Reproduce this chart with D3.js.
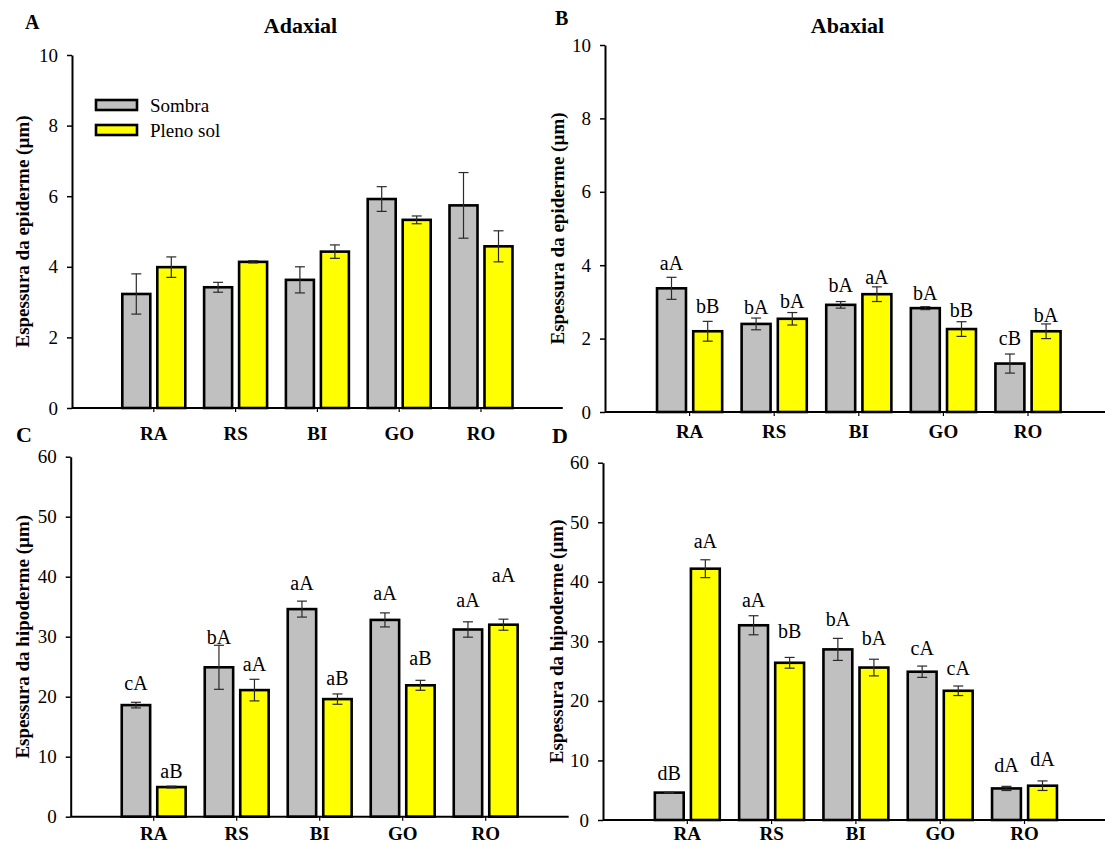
<!DOCTYPE html>
<html>
<head>
<meta charset="utf-8">
<script src="https://cdn.jsdelivr.net/npm/d3@7"></script>
<style>
  html, body { margin: 0; padding: 0; background: #fff; }
  svg { display: block; }
  text { font-family: "Liberation Serif", "Times New Roman", serif; fill: #000; }
</style>
</head>
<body>
<svg id="chart" width="1105" height="847"></svg>
<script>
// ---------- data ----------
const categories = ["RA", "RS", "BI", "GO", "RO"];
const seriesNames = ["Sombra", "Pleno sol"];

// Panel A: Adaxial epiderme (µm)
const epiAdaxSombra    = [3.23, 3.42, 3.63, 5.92, 5.74];
const epiAdaxSombraErr = [0.57, 0.14, 0.37, 0.35, 0.93];
const epiAdaxSol       = [3.99, 4.14, 4.43, 5.33, 4.58];
const epiAdaxSolErr    = [0.29, 0.03, 0.19, 0.11, 0.44];

// Panel B: Abaxial epiderme (µm)
const epiAbaxSombra    = [3.37, 2.40, 2.92, 2.83, 1.32];
const epiAbaxSombraErr = [0.30, 0.16, 0.09, 0.04, 0.26];
const epiAbaxSol       = [2.20, 2.54, 3.21, 2.26, 2.20];
const epiAbaxSolErr    = [0.27, 0.17, 0.20, 0.20, 0.20];
const epiAbaxSombraLetters = ["aA", "bA", "bA", "bA", "cB"];
const epiAbaxSolLetters    = ["bB", "bA", "aA", "bB", "bA"];
const epiAbaxSombraLetterAt = [3.86, 2.67, 3.26, 3.06, 1.83];
const epiAbaxSolLetterAt    = [2.70, 2.83, 3.49, 2.60, 2.45];

// Panel C: Adaxial hipoderme (µm)
const hipAdaxSombra    = [18.6, 24.9, 34.6, 32.8, 31.2];
const hipAdaxSombraErr = [0.47, 3.67, 1.33, 1.17, 1.28];
const hipAdaxSol       = [4.94, 21.1, 19.6, 21.9, 32.0];
const hipAdaxSolErr    = [0.15, 1.80, 0.86, 0.83, 0.92];
const hipAdaxSombraLetters = ["cA", "bA", "aA", "aA", "aA"];
const hipAdaxSolLetters    = ["aB", "aA", "aB", "aB", "aA"];
const hipAdaxSombraLetterAt = [21.2, 28.8, 37.8, 36.1, 34.9];
const hipAdaxSolLetterAt    = [6.4, 24.3, 21.9, 25.3, 39.1];

// Panel D: Abaxial hipoderme (µm)
const hipAbaxSombra    = [4.6, 32.7, 28.65, 24.9, 5.3];
const hipAbaxSombraErr = [0.05, 1.6, 1.85, 0.95, 0.35];
const hipAbaxSol       = [42.2, 26.4, 25.6, 21.7, 5.76];
const hipAbaxSolErr    = [1.5, 0.9, 1.4, 0.8, 0.8];
const hipAbaxSombraLetters = ["dB", "aA", "bA", "cA", "dA"];
const hipAbaxSolLetters    = ["aA", "bB", "bA", "cA", "dA"];
const hipAbaxSombraLetterAt = [6.7, 35.8, 32.5, 27.7, 8.1];
const hipAbaxSolLetterAt    = [45.6, 30.5, 29.4, 24.3, 9.0];

const epiTicks = [0, 2, 4, 6, 8, 10];
const hipTicks = [0, 10, 20, 30, 40, 50, 60];

const colors = ["#c0c0c0", "#ffff00"];

// ---------- drawing ----------
const svg = d3.select("#chart");
const FONT = '"Liberation Serif", "Times New Roman", serif';

function drawPanel(cfg) {
  const g = svg.append("g");
  const s = cfg.step;
  const xLine = d3.scaleLinear().domain([0, 6]).range([cfg.x0, cfg.x0 + 6 * s]);
  const x = d3.scaleBand().domain(categories)
    .range([cfg.x0 + 0.5 * s, cfg.x0 + 5.5 * s]).paddingInner(0).paddingOuter(0);
  const xs = d3.scaleBand().domain([0, 1]).range([-0.385 * s, 0.385 * s]).paddingInner(0.2);
  const y = d3.scaleLinear().domain([0, cfg.ticks[cfg.ticks.length - 1]]).range([cfg.y0, cfg.yTop]);

  const series = [
    { vals: cfg.sombra, err: cfg.sombraErr, letters: cfg.sombraLetters, at: cfg.sombraAt },
    { vals: cfg.sol, err: cfg.solErr, letters: cfg.solLetters, at: cfg.solAt }
  ];

  series.forEach((ser, si) => {
    const cx = c => x(c) + x.bandwidth() / 2 + xs(si);
    g.selectAll(null).data(categories).enter().append("rect")
      .attr("x", c => cx(c))
      .attr("width", xs.bandwidth())
      .attr("y", (c, i) => y(ser.vals[i]))
      .attr("height", (c, i) => y(0) - y(ser.vals[i]))
      .attr("fill", colors[si])
      .attr("stroke", "#000")
      .attr("stroke-width", 2.6);
    const eb = g.selectAll(null).data(categories).enter().append("g")
      .attr("stroke", "#2a2a2a").attr("stroke-width", 1.2);
    const mid = c => cx(c) + xs.bandwidth() / 2;
    eb.append("line")
      .attr("x1", c => mid(c)).attr("x2", c => mid(c))
      .attr("y1", (c, i) => y(ser.vals[i] + ser.err[i]))
      .attr("y2", (c, i) => y(ser.vals[i] - ser.err[i]));
    eb.append("line")
      .attr("x1", c => mid(c) - 5).attr("x2", c => mid(c) + 5)
      .attr("y1", (c, i) => y(ser.vals[i] + ser.err[i]))
      .attr("y2", (c, i) => y(ser.vals[i] + ser.err[i]));
    eb.append("line")
      .attr("x1", c => mid(c) - 5).attr("x2", c => mid(c) + 5)
      .attr("y1", (c, i) => y(ser.vals[i] - ser.err[i]))
      .attr("y2", (c, i) => y(ser.vals[i] - ser.err[i]));
    if (ser.letters) {
      g.selectAll(null).data(categories).enter().append("text")
        .attr("x", c => mid(c))
        .attr("y", (c, i) => y(ser.at[i]))
        .attr("text-anchor", "middle")
        .style("font-size", "20px")
        .text((c, i) => ser.letters[i]);
    }
  });

  // y axis
  const ya = g.append("g").attr("transform", `translate(${cfg.x0},0)`)
    .call(d3.axisLeft(y).tickValues(cfg.ticks).tickSize(5).tickSizeOuter(0).tickPadding(9));
  ya.select(".domain").attr("stroke-width", 2).attr("stroke", "#000");
  ya.selectAll(".tick line").attr("stroke-width", 1.5).attr("stroke", "#000");
  ya.selectAll(".tick text").style("font-family", FONT).style("font-size", "19px").attr("fill", "#000");

  // x axis
  const xa = g.append("g").attr("transform", `translate(0,${cfg.y0})`)
    .call(d3.axisBottom(x).tickSize(4).tickSizeOuter(0));
  xa.select(".domain").remove();
  xa.selectAll(".tick line").attr("stroke-width", 1.2).attr("stroke", "#000");
  xa.selectAll(".tick text")
    .attr("y", cfg.labelDy).attr("dy", 0)
    .style("font-family", FONT).style("font-size", "19px").style("font-weight", "bold").attr("fill", "#000");
  g.append("line")
    .attr("x1", xLine(0)).attr("x2", xLine(6))
    .attr("y1", cfg.y0).attr("y2", cfg.y0)
    .attr("stroke", "#000").attr("stroke-width", 2);

  // y label
  const yMid = (y.range()[0] + y.range()[1]) / 2;
  g.append("text")
    .attr("transform", `translate(${cfg.ylabelX},${yMid}) rotate(-90)`)
    .attr("text-anchor", "middle")
    .style("font-size", "19px").style("font-weight", "bold")
    .text(cfg.ylabel);

  // panel letter
  g.append("text")
    .attr("x", cfg.letterX).attr("y", cfg.letterY)
    .style("font-size", cfg.letterSize).style("font-weight", "bold")
    .text(cfg.letter);

  if (cfg.title) {
    g.append("text")
      .attr("x", cfg.titleX).attr("y", 33)
      .attr("text-anchor", "middle")
      .style("font-size", "22px").style("font-weight", "bold")
      .text(cfg.title);
  }

  if (cfg.legend) {
    seriesNames.forEach((name, i) => {
      g.append("rect")
        .attr("x", 96).attr("y", 100 + i * 25)
        .attr("width", 41).attr("height", 10)
        .attr("fill", colors[i]).attr("stroke", "#000").attr("stroke-width", 2.6);
      g.append("text")
        .attr("x", 150).attr("y", 112 + i * 24.5)
        .style("font-size", "19px")
        .text(name);
    });
  }
}

drawPanel({
  x0: 72, step: 81.8, y0: 408, yTop: 55, ticks: epiTicks, labelDy: 32,
  sombra: epiAdaxSombra, sombraErr: epiAdaxSombraErr,
  sol: epiAdaxSol, solErr: epiAdaxSolErr,
  ylabel: "Espessura da epiderme (µm)", ylabelX: 29,
  letter: "A", letterX: 25, letterY: 29, letterSize: "20px",
  title: "Adaxial", titleX: 300.5, legend: true
});
drawPanel({
  x0: 605, step: 84.6, y0: 412, yTop: 45, ticks: epiTicks, labelDy: 26,
  sombra: epiAbaxSombra, sombraErr: epiAbaxSombraErr, sombraLetters: epiAbaxSombraLetters, sombraAt: epiAbaxSombraLetterAt,
  sol: epiAbaxSol, solErr: epiAbaxSolErr, solLetters: epiAbaxSolLetters, solAt: epiAbaxSolLetterAt,
  ylabel: "Espessura da epiderme (µm)", ylabelX: 564,
  letter: "B", letterX: 555, letterY: 25, letterSize: "20px",
  title: "Abaxial", titleX: 847.5
});
drawPanel({
  x0: 70.7, step: 83, y0: 816.7, yTop: 456.7, ticks: hipTicks, labelDy: 23,
  sombra: hipAdaxSombra, sombraErr: hipAdaxSombraErr, sombraLetters: hipAdaxSombraLetters, sombraAt: hipAdaxSombraLetterAt,
  sol: hipAdaxSol, solErr: hipAdaxSolErr, solLetters: hipAdaxSolLetters, solAt: hipAdaxSolLetterAt,
  ylabel: "Espessura da hipoderme (µm)", ylabelX: 29,
  letter: "C", letterX: 16, letterY: 442, letterSize: "22px"
});
drawPanel({
  x0: 603, step: 84.3, y0: 820, yTop: 462.7, ticks: hipTicks, labelDy: 20,
  sombra: hipAbaxSombra, sombraErr: hipAbaxSombraErr, sombraLetters: hipAbaxSombraLetters, sombraAt: hipAbaxSombraLetterAt,
  sol: hipAbaxSol, solErr: hipAbaxSolErr, solLetters: hipAbaxSolLetters, solAt: hipAbaxSolLetterAt,
  ylabel: "Espessura da hipoderme (µm)", ylabelX: 563,
  letter: "D", letterX: 552, letterY: 443, letterSize: "22px"
});
</script>
</body>
</html>
